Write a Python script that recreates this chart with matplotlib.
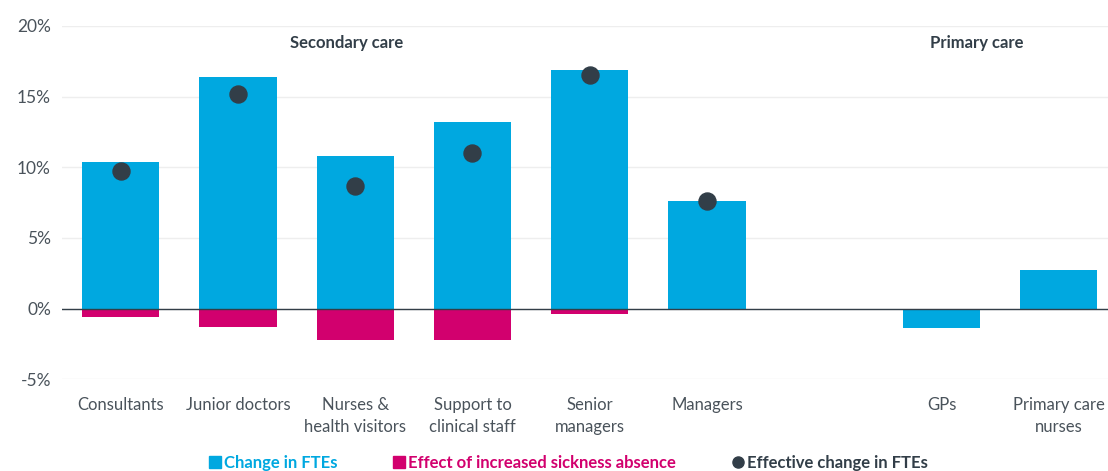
import numpy as np
import matplotlib
matplotlib.use("Agg")
import matplotlib.pyplot as plt
from matplotlib.lines import Line2D

plt.rcParams['font.family'] = ['Lato', 'DejaVu Sans']

# Daten (in %)
kategorien = ['Consultants', 'Junior doctors', 'Nurses &\nhealth visitors',
              'Support to\nclinical staff', 'Senior\nmanagers', 'Managers',
              '', 'GPs', 'Primary care\nnurses']
change_fte = [10.4, 16.4, 10.8, 13.2, 16.9, 7.6, np.nan, -1.4, 2.75]
sickness = [-0.6, -1.3, -2.2, -2.2, -0.4, 0.0, np.nan, np.nan, np.nan]
effective = [9.75, 15.2, 8.7, 11.0, 16.5, 7.6, np.nan, np.nan, np.nan]
yticks = [-5, 0, 5, 10, 15, 20]

blau = '#00a8e0'
pink = '#d2006e'
dunkel = '#323e48'
grau = '#4a535b'

fig = plt.figure(figsize=(11.08, 4.71), dpi=100)
ax = fig.add_axes([0.056, 0.195, 0.944, 0.75])

x = np.arange(len(kategorien))
ax.bar(x, change_fte, width=0.66, color=blau, zorder=2)
ax.bar(x, sickness, width=0.66, color=pink, zorder=2)
ax.scatter(x, effective, s=150, color=dunkel, zorder=3)

ax.set_xlim(-0.5, 8.42)
ax.set_ylim(-5, 20)
ax.set_yticks(yticks)
ax.set_yticklabels([f'{t}%' for t in yticks], fontsize=12.5, color=grau)
ax.set_xticks(x)
ax.set_xticklabels(kategorien, fontsize=12, color=grau, linespacing=1.45, va='top')
ax.tick_params(length=0, pad=8)
ax.tick_params(axis='x', pad=13)
ax.grid(axis='y', color='#eeeeee', linewidth=1, zorder=0)
ax.axhline(0, color=dunkel, linewidth=1, zorder=4)
for s in ax.spines.values():
    s.set_visible(False)

ax.text(1.93, 18.8, 'Secondary care', ha='center', va='center',
        fontsize=12, fontweight='bold', color=dunkel)
ax.text(7.3, 18.8, 'Primary care', ha='center', va='center',
        fontsize=12, fontweight='bold', color=dunkel)

handles = [
    Line2D([], [], marker='s', linestyle='', color=blau, markersize=8),
    Line2D([], [], marker='s', linestyle='', color=pink, markersize=8),
    Line2D([], [], marker='o', linestyle='', color=dunkel, markersize=8),
]
labels = ['Change in FTEs', 'Effect of increased sickness absence', 'Effective change in FTEs']
leg = fig.legend(handles, labels, loc='center', bbox_to_anchor=(0.512, 0.018),
                 ncol=3, frameon=False, columnspacing=3.2,
                 handletextpad=0.05, handlelength=1,
                 labelcolor=[blau, pink, dunkel], prop={'weight': 'bold', 'size': 12})

fig.savefig('out.png', dpi=100)
